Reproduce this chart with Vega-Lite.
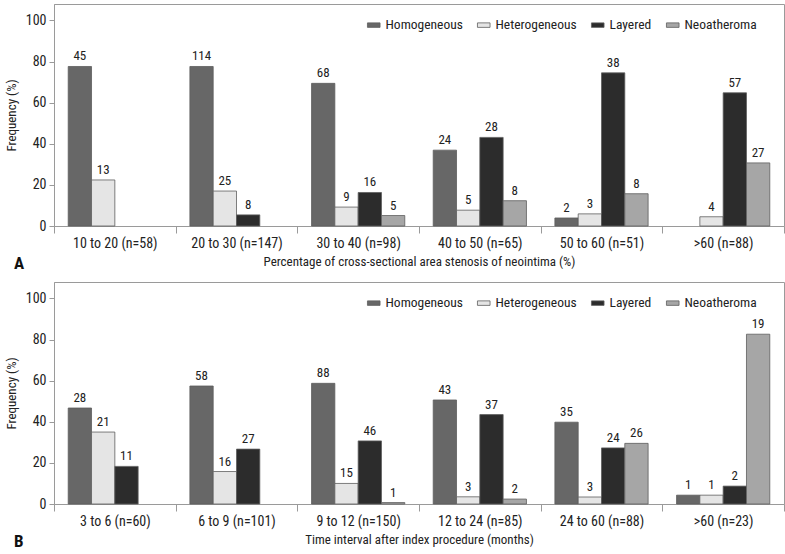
{
  "$schema": "https://vega.github.io/schema/vega-lite/v6.json",
  "padding": {"left": 4, "top": 3, "right": 3, "bottom": 2},
  "background": "white",
  "config": {
    "font": "Roboto Condensed, DejaVu Sans Condensed, Roboto",
    "view": {"stroke": "#9a9a9a", "strokeWidth": 1},
    "axis": {
      "labelFont": "Roboto Condensed, DejaVu Sans Condensed, Roboto",
      "titleFont": "Roboto Condensed, DejaVu Sans Condensed, Roboto",
      "labelFontSize": 14,
      "titleFontSize": 13,
      "titleFontWeight": "normal",
      "labelColor": "#222",
      "titleColor": "#222",
      "domainColor": "#9a9a9a",
      "tickColor": "#9a9a9a",
      "grid": false
    },
    "legend": {
      "labelFont": "Roboto Condensed, DejaVu Sans Condensed, Roboto",
      "labelFontSize": 13.5,
      "labelColor": "#222"
    }
  },
  "datasets": {
    "A": [
      {"g": "10 to 20 (n=58)", "t": "Homogeneous", "pct": 77.6, "n": 45},
      {"g": "10 to 20 (n=58)", "t": "Heterogeneous", "pct": 22.4, "n": 13},
      {"g": "20 to 30 (n=147)", "t": "Homogeneous", "pct": 77.6, "n": 114},
      {"g": "20 to 30 (n=147)", "t": "Heterogeneous", "pct": 17.0, "n": 25},
      {"g": "20 to 30 (n=147)", "t": "Layered", "pct": 5.4, "n": 8},
      {"g": "30 to 40 (n=98)", "t": "Homogeneous", "pct": 69.4, "n": 68},
      {"g": "30 to 40 (n=98)", "t": "Heterogeneous", "pct": 9.2, "n": 9},
      {"g": "30 to 40 (n=98)", "t": "Layered", "pct": 16.3, "n": 16},
      {"g": "30 to 40 (n=98)", "t": "Neoatheroma", "pct": 5.1, "n": 5},
      {"g": "40 to 50 (n=65)", "t": "Homogeneous", "pct": 36.9, "n": 24},
      {"g": "40 to 50 (n=65)", "t": "Heterogeneous", "pct": 7.7, "n": 5},
      {"g": "40 to 50 (n=65)", "t": "Layered", "pct": 43.1, "n": 28},
      {"g": "40 to 50 (n=65)", "t": "Neoatheroma", "pct": 12.3, "n": 8},
      {"g": "50 to 60 (n=51)", "t": "Homogeneous", "pct": 3.9, "n": 2},
      {"g": "50 to 60 (n=51)", "t": "Heterogeneous", "pct": 5.9, "n": 3},
      {"g": "50 to 60 (n=51)", "t": "Layered", "pct": 74.5, "n": 38},
      {"g": "50 to 60 (n=51)", "t": "Neoatheroma", "pct": 15.7, "n": 8},
      {"g": ">60 (n=88)", "t": "Heterogeneous", "pct": 4.5, "n": 4},
      {"g": ">60 (n=88)", "t": "Layered", "pct": 64.8, "n": 57},
      {"g": ">60 (n=88)", "t": "Neoatheroma", "pct": 30.7, "n": 27}
    ],
    "B": [
      {"g": "3 to 6 (n=60)", "t": "Homogeneous", "pct": 46.7, "n": 28},
      {"g": "3 to 6 (n=60)", "t": "Heterogeneous", "pct": 35.0, "n": 21},
      {"g": "3 to 6 (n=60)", "t": "Layered", "pct": 18.3, "n": 11},
      {"g": "6 to 9 (n=101)", "t": "Homogeneous", "pct": 57.4, "n": 58},
      {"g": "6 to 9 (n=101)", "t": "Heterogeneous", "pct": 15.8, "n": 16},
      {"g": "6 to 9 (n=101)", "t": "Layered", "pct": 26.7, "n": 27},
      {"g": "9 to 12 (n=150)", "t": "Homogeneous", "pct": 58.7, "n": 88},
      {"g": "9 to 12 (n=150)", "t": "Heterogeneous", "pct": 10.0, "n": 15},
      {"g": "9 to 12 (n=150)", "t": "Layered", "pct": 30.7, "n": 46},
      {"g": "9 to 12 (n=150)", "t": "Neoatheroma", "pct": 0.7, "n": 1},
      {"g": "12 to 24 (n=85)", "t": "Homogeneous", "pct": 50.6, "n": 43},
      {"g": "12 to 24 (n=85)", "t": "Heterogeneous", "pct": 3.5, "n": 3},
      {"g": "12 to 24 (n=85)", "t": "Layered", "pct": 43.5, "n": 37},
      {"g": "12 to 24 (n=85)", "t": "Neoatheroma", "pct": 2.4, "n": 2},
      {"g": "24 to 60 (n=88)", "t": "Homogeneous", "pct": 39.8, "n": 35},
      {"g": "24 to 60 (n=88)", "t": "Heterogeneous", "pct": 3.4, "n": 3},
      {"g": "24 to 60 (n=88)", "t": "Layered", "pct": 27.3, "n": 24},
      {"g": "24 to 60 (n=88)", "t": "Neoatheroma", "pct": 29.5, "n": 26},
      {"g": ">60 (n=23)", "t": "Homogeneous", "pct": 4.3, "n": 1},
      {"g": ">60 (n=23)", "t": "Heterogeneous", "pct": 4.3, "n": 1},
      {"g": ">60 (n=23)", "t": "Layered", "pct": 8.7, "n": 2},
      {"g": ">60 (n=23)", "t": "Neoatheroma", "pct": 82.6, "n": 19}
    ]
  },
  "resolve": {"scale": {"color": "independent"}, "legend": {"color": "independent"}},
  "spacing": 8,
  "vconcat": [
    {
      "width": 730,
      "height": 222,
      "data": {"name": "A"},
      "title": {"text": "A", "orient": "bottom", "anchor": "start", "dx": -40, "dy": -16, "fontSize": 17, "fontWeight": "bold", "font": "Roboto Condensed, DejaVu Sans Condensed, Roboto", "color": "#111", "frame": "group"},
      "encoding": {
        "x": {"field": "g", "type": "nominal", "sort": ["10 to 20 (n=58)", "20 to 30 (n=147)", "30 to 40 (n=98)", "40 to 50 (n=65)", "50 to 60 (n=51)", ">60 (n=88)"],
          "scale": {"paddingInner": 0, "paddingOuter": 0},
          "axis": {"title": "Percentage of cross-sectional area stenosis of neointima (%)", "labelAngle": 0, "tickBand": "extent", "tickSize": 7, "labelPadding": 3, "titlePadding": 5}},
        "xOffset": {"field": "t", "type": "nominal", "sort": ["Homogeneous", "Heterogeneous", "Layered", "Neoatheroma"], "scale": {"paddingInner": 0, "paddingOuter": 0.61}},
        "y": {"field": "pct", "type": "quantitative", "scale": {"domain": [0, 108], "nice": false},
          "axis": {"title": "Frequency (%)", "values": [0, 20, 40, 60, 80, 100], "tickSize": 5, "labelPadding": 3, "titlePadding": 7}}
      },
      "layer": [
        {
          "mark": {"type": "bar", "stroke": "#5e5e5e", "strokeWidth": 0.8},
          "encoding": {
            "color": {"field": "t", "type": "nominal", "sort": ["Homogeneous", "Heterogeneous", "Layered", "Neoatheroma"],
              "scale": {"domain": ["Homogeneous", "Heterogeneous", "Layered", "Neoatheroma"], "range": ["#676767", "#e5e5e5", "#2c2c2c", "#a6a6a6"]},
              "legend": {"title": null, "orient": "none", "legendX": 313, "legendY": 14, "direction": "horizontal", "columns": 4, "columnPadding": 12,
                "symbolType": "M-1.4,-0.5H1.4V0.5H-1.4Z", "symbolSize": 81, "symbolStrokeColor": "#5e5e5e", "symbolStrokeWidth": 0.8, "symbolOpacity": 1, "labelOffset": 5}}
          }
        },
        {
          "mark": {"type": "text", "baseline": "alphabetic", "dy": -6, "fontSize": 13, "color": "#222"},
          "encoding": {"text": {"field": "n", "type": "quantitative"}}
        }
      ]
    },
    {
      "width": 730,
      "height": 222,
      "data": {"name": "B"},
      "title": {"text": "B", "orient": "bottom", "anchor": "start", "dx": -40, "dy": -16, "fontSize": 17, "fontWeight": "bold", "font": "Roboto Condensed, DejaVu Sans Condensed, Roboto", "color": "#111", "frame": "group"},
      "encoding": {
        "x": {"field": "g", "type": "nominal", "sort": ["3 to 6 (n=60)", "6 to 9 (n=101)", "9 to 12 (n=150)", "12 to 24 (n=85)", "24 to 60 (n=88)", ">60 (n=23)"],
          "scale": {"paddingInner": 0, "paddingOuter": 0},
          "axis": {"title": "Time interval after index procedure (months)", "labelAngle": 0, "tickBand": "extent", "tickSize": 7, "labelPadding": 3, "titlePadding": 5}},
        "xOffset": {"field": "t", "type": "nominal", "sort": ["Homogeneous", "Heterogeneous", "Layered", "Neoatheroma"], "scale": {"paddingInner": 0, "paddingOuter": 0.61}},
        "y": {"field": "pct", "type": "quantitative", "scale": {"domain": [0, 108], "nice": false},
          "axis": {"title": "Frequency (%)", "values": [0, 20, 40, 60, 80, 100], "tickSize": 5, "labelPadding": 3, "titlePadding": 7}}
      },
      "layer": [
        {
          "mark": {"type": "bar", "stroke": "#5e5e5e", "strokeWidth": 0.8},
          "encoding": {
            "color": {"field": "t", "type": "nominal", "sort": ["Homogeneous", "Heterogeneous", "Layered", "Neoatheroma"],
              "scale": {"domain": ["Homogeneous", "Heterogeneous", "Layered", "Neoatheroma"], "range": ["#676767", "#e5e5e5", "#2c2c2c", "#a6a6a6"]},
              "legend": {"title": null, "orient": "none", "legendX": 313, "legendY": 14, "direction": "horizontal", "columns": 4, "columnPadding": 12,
                "symbolType": "M-1.4,-0.5H1.4V0.5H-1.4Z", "symbolSize": 81, "symbolStrokeColor": "#5e5e5e", "symbolStrokeWidth": 0.8, "symbolOpacity": 1, "labelOffset": 5}}
          }
        },
        {
          "mark": {"type": "text", "baseline": "alphabetic", "dy": -6, "fontSize": 13, "color": "#222"},
          "encoding": {"text": {"field": "n", "type": "quantitative"}}
        }
      ]
    }
  ]
}
